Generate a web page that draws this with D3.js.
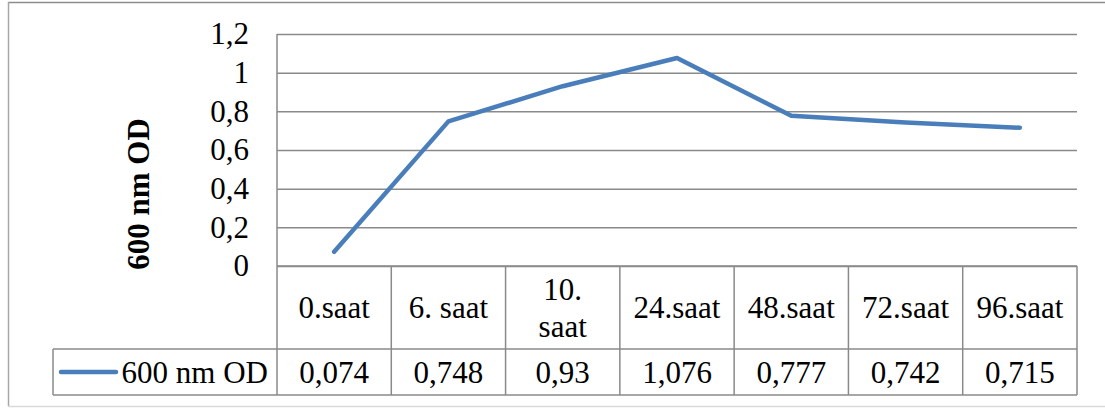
<!DOCTYPE html>
<html>
<head>
<meta charset="utf-8">
<script src="https://cdn.jsdelivr.net/npm/d3@7"></script>
<style>
    html, body { margin: 0; padding: 0; background: #fff; }
</style>
</head>
<body>
<div id="chart"></div>
<script>
const categories = ['0.saat', '6. saat', '10. saat', '24.saat', '48.saat', '72.saat', '96.saat'];
const odValues = [0.074, 0.748, 0.93, 1.076, 0.777, 0.742, 0.715];
const yTicks = [0, 0.2, 0.4, 0.6, 0.8, 1, 1.2];
const seriesName = '600 nm OD';
const axisTitle = '600 nm OD';

const W = 1105, H = 408;
const plot = { left: 277, right: 1077, top: 34, bottom: 266 };
const catRowBottom = 349, valRowBottom = 395, legendLeft = 53;
const gridColor = '#8a8a8a';
const lineColor = '#4a7ebb';
const fontSize = 31;
const font = '"Liberation Serif"';

const comma = v => String(v).replace('.', ',');
const styleText = sel => sel
    .style('font-family', font)
    .style('font-size', fontSize + 'px')
    .attr('fill', '#000');

const svg = d3.select('#chart')
    .append('svg')
    .attr('width', W)
    .attr('height', H)
    .style('font-family', font);

// outer chart border
svg.append('line').attr('x1', 8).attr('x2', W).attr('y1', 2.5).attr('y2', 2.5)
    .attr('stroke', '#8c8c8c').attr('stroke-width', 1.5);
svg.append('line').attr('x1', 8.5).attr('x2', 8.5).attr('y1', 2).attr('y2', 406)
    .attr('stroke', '#a6a6a6').attr('stroke-width', 1.5);
svg.append('line').attr('x1', 8).attr('x2', W).attr('y1', 406.5).attr('y2', 406.5)
    .attr('stroke', '#d9d9d9').attr('stroke-width', 1.5);

const x = d3.scaleBand()
    .domain(categories)
    .range([plot.left, plot.right])
    .padding(0);

const y = d3.scaleLinear()
    .domain([0, 1.2])
    .range([plot.bottom, plot.top]);

// gridlines
svg.append('g')
    .attr('transform', `translate(${plot.left},0)`)
    .call(d3.axisLeft(y).tickValues(yTicks).tickSize(-(plot.right - plot.left)).tickFormat(''))
    .call(g => g.select('.domain').remove())
    .call(g => g.selectAll('line').attr('stroke', gridColor).attr('stroke-width', 1.5));

// y axis labels
svg.append('g')
    .attr('transform', `translate(${plot.left},0)`)
    .call(d3.axisLeft(y).tickValues(yTicks).tickSize(0).tickPadding(28).tickFormat(comma))
    .attr('font-family', null)
    .attr('font-size', null)
    .call(g => g.select('.domain').remove())
    .call(g => styleText(g.selectAll('text')));

// axis title
svg.append('text')
    .attr('transform', 'translate(138,194) rotate(-90)')
    .attr('text-anchor', 'middle')
    .attr('dy', '0.35em')
    .call(styleText)
    .style('font-weight', 'bold')
    .text(axisTitle);

// data table
const table = svg.append('g')
    .attr('fill', 'none')
    .attr('stroke', gridColor)
    .attr('stroke-width', 1.5);

// vertical axis line down through the table
table.append('line').attr('x1', plot.left).attr('x2', plot.left)
    .attr('y1', plot.top).attr('y2', valRowBottom);
// horizontal table lines
table.append('line').attr('x1', plot.left).attr('x2', plot.right)
    .attr('y1', plot.bottom).attr('y2', plot.bottom);
table.append('line').attr('x1', legendLeft).attr('x2', plot.right)
    .attr('y1', catRowBottom).attr('y2', catRowBottom);
table.append('line').attr('x1', legendLeft).attr('x2', plot.right)
    .attr('y1', valRowBottom).attr('y2', valRowBottom);
table.append('line').attr('x1', legendLeft).attr('x2', legendLeft)
    .attr('y1', catRowBottom).attr('y2', valRowBottom);
table.selectAll('.col')
    .data(categories)
    .enter()
    .append('line')
    .attr('class', 'col')
    .attr('x1', d => x(d) + x.bandwidth())
    .attr('x2', d => x(d) + x.bandwidth())
    .attr('y1', plot.bottom)
    .attr('y2', valRowBottom);

// category labels; long ones wrap onto two lines like the Excel table
const catMid = (plot.bottom + catRowBottom) / 2;
const catLines = c => (c.length > 7 && c.includes(' ')) ? c.split(' ') : [c];

svg.selectAll('.cat')
    .data(categories)
    .enter()
    .append('text')
    .attr('class', 'cat')
    .attr('text-anchor', 'middle')
    .call(styleText)
    .each(function(c) {
        const parts = catLines(c);
        d3.select(this).selectAll('tspan')
            .data(parts)
            .enter()
            .append('tspan')
            .attr('x', x(c) + x.bandwidth() / 2)
            .attr('y', (d, i) => catMid + (i - (parts.length - 1) / 2) * 37)
            .attr('dy', '0.35em')
            .text(d => d);
    });

// value labels
const valMid = (catRowBottom + valRowBottom) / 2;
svg.selectAll('.val')
    .data(odValues)
    .enter()
    .append('text')
    .attr('class', 'val')
    .attr('x', (d, i) => x(categories[i]) + x.bandwidth() / 2)
    .attr('y', valMid)
    .attr('dy', '0.35em')
    .attr('text-anchor', 'middle')
    .call(styleText)
    .text(comma);

// legend key
svg.append('line')
    .attr('x1', 61).attr('x2', 116)
    .attr('y1', valMid).attr('y2', valMid)
    .attr('stroke', lineColor)
    .attr('stroke-width', 4.5)
    .attr('stroke-linecap', 'round');
svg.append('text')
    .attr('x', 268)
    .attr('y', valMid)
    .attr('dy', '0.35em')
    .attr('text-anchor', 'end')
    .call(styleText)
    .text(seriesName);

// series line
const line = d3.line()
    .x((d, i) => x(categories[i]) + x.bandwidth() / 2)
    .y(d => y(d));

svg.append('path')
    .datum(odValues)
    .attr('d', line)
    .attr('fill', 'none')
    .attr('stroke', lineColor)
    .attr('stroke-width', 4.5)
    .attr('stroke-linejoin', 'round')
    .attr('stroke-linecap', 'round');
</script>
</body>
</html>
